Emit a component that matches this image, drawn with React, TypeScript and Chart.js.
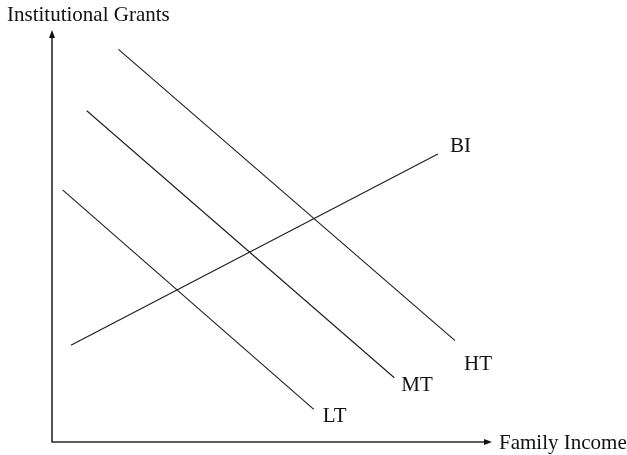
import React, { useEffect, useRef } from "react";
import { Chart, registerables } from "chart.js";

Chart.register(...registerables);

// Data (arbitrary units, 0–100 on each axis)
const lineNames = ["HT", "MT", "LT", "BI"];
const htX = [15.1, 91.6];
const htY = [95.3, 24.6];
const mtX = [7.9, 77.8];
const mtY = [80.4, 15.6];
const ltX = [2.4, 59.5];
const ltY = [61.2, 7.9];
const biX = [4.3, 87.7];
const biY = [23.5, 69.9];
const yAxisTitle = "Institutional Grants";
const xAxisTitle = "Family Income";

const FONT = '"Liberation Serif", "Times New Roman", serif';

const seriesX = [htX, mtX, ltX, biX];
const seriesY = [htY, mtY, ltY, biY];

const annotate = {
  id: "annotate",
  afterDraw(chart: any) {
    const ctx = chart.ctx as CanvasRenderingContext2D;
    const a = chart.chartArea;
    ctx.save();
    // axes
    ctx.strokeStyle = "#2a2a2a";
    ctx.fillStyle = "#111";
    ctx.lineWidth = 1.6;
    ctx.beginPath();
    ctx.moveTo(a.left, a.top + 4);
    ctx.lineTo(a.left, a.bottom);
    ctx.lineTo(a.right - 4, a.bottom);
    ctx.stroke();
    // arrow heads
    ctx.beginPath();
    ctx.moveTo(a.left, a.top);
    ctx.lineTo(a.left - 3, a.top + 8);
    ctx.lineTo(a.left + 3, a.top + 8);
    ctx.closePath();
    ctx.fill();
    ctx.beginPath();
    ctx.moveTo(a.right, a.bottom);
    ctx.lineTo(a.right - 8, a.bottom - 3);
    ctx.lineTo(a.right - 8, a.bottom + 3);
    ctx.closePath();
    ctx.fill();

    // axis titles
    ctx.font = `21px ${FONT}`;
    ctx.fillStyle = "#111";
    ctx.textBaseline = "alphabetic";
    ctx.textAlign = "left";
    ctx.fillText(yAxisTitle, a.left - 45, a.top - 9.5);
    ctx.fillText(xAxisTitle, a.right + 7, a.bottom + 6.5);

    // line labels
    const offsets: Record<string, [number, number]> = {
      HT: [9, 29],
      MT: [7, 13.5],
      LT: [9, 12.5],
      BI: [12, -2.5],
    };
    chart.data.datasets.forEach((ds: any, i: number) => {
      const meta = chart.getDatasetMeta(i);
      const pt = meta.data[meta.data.length - 1];
      const off = offsets[ds.label] || [6, 0];
      ctx.fillText(ds.label, pt.x + off[0], pt.y + off[1]);
    });
    ctx.restore();
  },
};

export default function App() {
  const ref = useRef<HTMLCanvasElement>(null);
  useEffect(() => {
    document.body.style.margin = "0";
    const datasets = lineNames.map((name, i) => ({
      label: name,
      data: seriesX[i].map((x, j) => ({ x, y: seriesY[i][j] })),
      showLine: true,
      borderColor: "#1c1c1c",
      borderWidth: 1.1,
      pointRadius: 0,
      fill: false,
    }));
    const chart = new Chart(ref.current as HTMLCanvasElement, {
      type: "scatter",
      data: { datasets },
      options: {
        animation: false,
        responsive: false,
        maintainAspectRatio: false,
        layout: { padding: { left: 52, right: 135, top: 30, bottom: 13 } },
        plugins: { legend: { display: false }, tooltip: { enabled: false } },
        scales: {
          x: { type: "linear", min: 0, max: 100, display: false },
          y: { type: "linear", min: 0, max: 100, display: false },
        },
      },
      plugins: [annotate],
    });
    return () => chart.destroy();
  }, []);
  return (
    <div style={{ position: "fixed", left: 0, top: 0, width: 627, height: 455, background: "#fff" }}>
      <canvas ref={ref} width={627} height={455} style={{ width: 627, height: 455 }} />
    </div>
  );
}
